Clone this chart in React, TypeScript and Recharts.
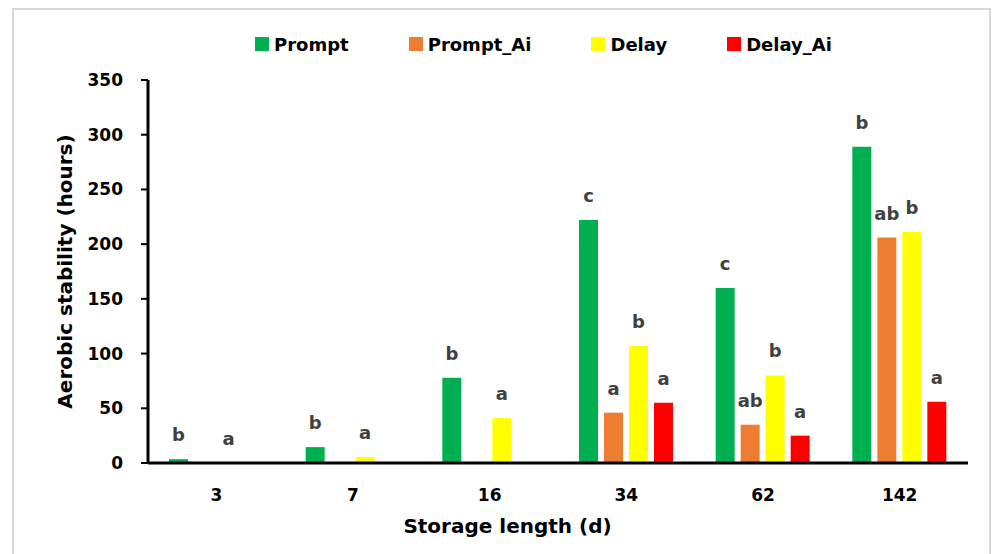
import React from "react";
import { BarChart, Bar, XAxis, YAxis, Legend, LabelList } from "recharts";

const categories = ["3", "7", "16", "34", "62", "142"];
const promptValues = [3.5, 14.5, 78, 222, 160, 289];
const promptAiValues = [null, null, null, 46, 35, 206];
const delayValues = [0.2, 5.5, 41, 107, 80, 211];
const delayAiValues = [null, null, null, 55, 25, 56];

const promptLetters = ["b", "b", "b", "c", "c", "b"];
const promptAiLetters = [null, null, null, "a", "ab", "ab"];
const delayLetters = ["a", "a", "a", "b", "b", "b"];
const delayAiLetters = [null, null, null, "a", "a", "a"];

const yTicks = [0, 50, 100, 150, 200, 250, 300, 350];

const seriesNames = ["Prompt", "Prompt_Ai", "Delay", "Delay_Ai"];
const seriesColors = ["#00B050", "#ED7D31", "#FFFF00", "#FF0000"];
const seriesKeys = ["prompt", "promptAi", "delay", "delayAi"];
const letterKeys = ["promptLbl", "promptAiLbl", "delayLbl", "delayAiLbl"];

const data = categories.map((c, i) => ({
  day: c,
  prompt: promptValues[i],
  promptAi: promptAiValues[i],
  delay: delayValues[i],
  delayAi: delayAiValues[i],
  promptLbl: promptLetters[i],
  promptAiLbl: promptAiLetters[i],
  delayLbl: delayLetters[i],
  delayAiLbl: delayAiLetters[i],
}));

const FONT = "'DejaVu Sans', sans-serif";

const LetterLabel = (props: any) => {
  const { x, y, width, value } = props;
  if (!value || x == null || y == null || isNaN(Number(y))) return null;
  return (
    <text
      x={Number(x) + Number(width) / 2}
      y={Number(y) - 18}
      textAnchor="middle"
      fill="#404040"
      fontFamily={FONT}
      fontWeight="bold"
      fontSize={18}
    >
      {value}
    </text>
  );
};

const renderLegend = () => (
  <div
    style={{
      display: "flex",
      alignItems: "center",
      paddingLeft: 247,
      height: 20,
      fontFamily: FONT,
      fontWeight: "bold",
      fontSize: 18,
      color: "#000",
    }}
  >
    {seriesNames.map((n, i) => (
      <div key={n} style={{ display: "flex", alignItems: "center", marginRight: 60 }}>
        <div style={{ width: 14, height: 14, background: seriesColors[i], marginRight: 5 }} />
        <span>{n}</span>
      </div>
    ))}
  </div>
);

const XTitle = (props: any) => {
  const vb = props.viewBox || { x: 140, y: 455, width: 820, height: 80 };
  return (
    <text
      x={vb.x + vb.width / 2 - 50.5}
      y={vb.y + 70}
      textAnchor="middle"
      fill="#000"
      fontFamily={FONT}
      fontWeight="bold"
      fontSize={20}
    >
      Storage length (d)
    </text>
  );
};

const YTitle = (props: any) => {
  const vb = props.viewBox || { x: 0, y: 72, width: 140, height: 383 };
  const cx = vb.x + 64;
  const cy = vb.y + vb.height / 2;
  return (
    <text
      x={cx}
      y={cy}
      transform={`rotate(-90, ${cx}, ${cy})`}
      textAnchor="middle"
      fill="#000"
      fontFamily={FONT}
      fontWeight="bold"
      fontSize={20}
    >
      Aerobic stability (hours)
    </text>
  );
};

export default function App() {
  return (
    <div style={{ position: "relative", width: 984, height: 560 }}>
      <div
        style={{
          position: "absolute",
          left: 4,
          top: 0,
          width: 975,
          height: 556,
          border: "2px solid #d9d9d9",
        }}
      />
      <div style={{ position: "absolute", left: 0, top: 0 }}>
        <BarChart
          width={984}
          height={546}
          data={data}
          margin={{ top: 72, right: 24, bottom: 11, left: 0 }}
          barSize={19}
          barGap={6}
        >
          <Legend
            verticalAlign="top"
            align="left"
            content={renderLegend}
            wrapperStyle={{ top: 26, left: 0, width: 984, height: 0, overflow: "visible" }}
          />
          <XAxis
            dataKey="day"
            type="category"
            height={80}
            axisLine={{ stroke: "#000", strokeWidth: 3 }}
            tickLine={false}
            tickSize={0}
            tickMargin={26}
            tick={{ fill: "#000", fontFamily: FONT, fontWeight: "bold", fontSize: 17 }}
            label={{ content: XTitle }}
          />
          <YAxis
            width={140}
            domain={[0, 350]}
            ticks={yTicks}
            interval={0}
            allowDataOverflow
            axisLine={{ stroke: "#000", strokeWidth: 3 }}
            tickLine={{ stroke: "#000", strokeWidth: 2 }}
            tickSize={7}
            tickMargin={18}
            tick={{ fill: "#000", fontFamily: FONT, fontWeight: "bold", fontSize: 17 }}
            label={{ content: YTitle }}
          />
          {seriesKeys.map((k, i) => (
            <Bar
              key={k}
              dataKey={k}
              name={seriesNames[i]}
              fill={seriesColors[i]}
              isAnimationActive={false}
            >
              <LabelList dataKey={letterKeys[i]} content={LetterLabel} />
            </Bar>
          ))}
        </BarChart>
      </div>
    </div>
  );
}
